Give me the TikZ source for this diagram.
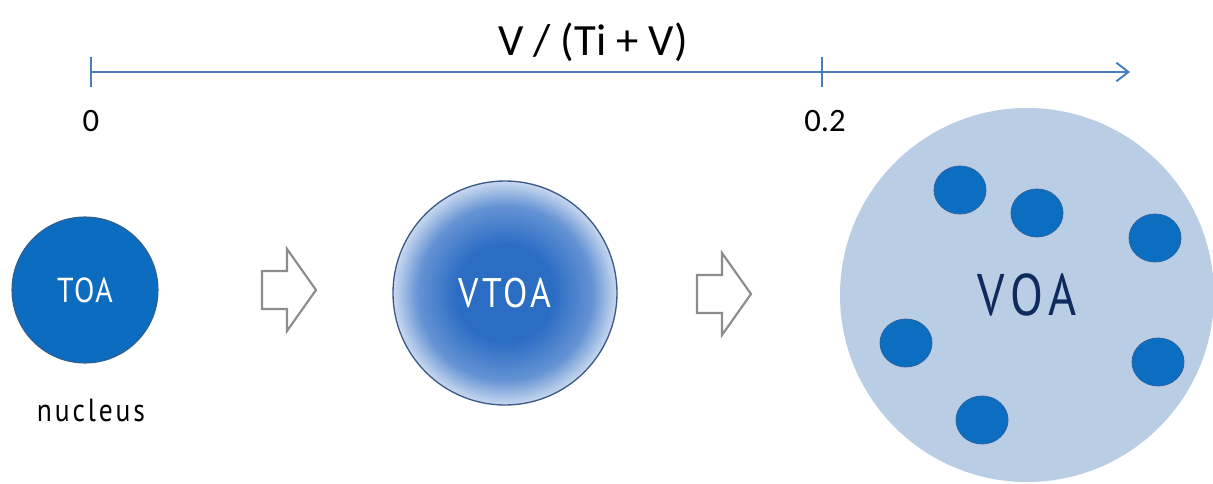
\documentclass[tikz,border=0pt]{standalone}
\usepackage{fontspec}
\setmainfont{Carlito}
\newfontfamily\din[LetterSpace=5,FakeStretch=0.86]{PT Sans}
\newfontfamily\dinmid[LetterSpace=9,FakeStretch=0.86]{PT Sans}
\newfontfamily\dinwide[LetterSpace=12,FakeStretch=0.82]{PT Sans}
\usetikzlibrary{arrows.meta,shapes.geometric}
\definecolor{axisblue}{HTML}{4A7EBB}
\definecolor{toafill}{HTML}{0B6CC0}
\definecolor{toaedge}{HTML}{2F5F8F}
\definecolor{vtoain}{HTML}{2C6DC4}
\definecolor{vtoamid}{HTML}{6593D4}
\definecolor{vtoaout}{HTML}{C9D9EF}
\definecolor{vtoaedge}{HTML}{3B5A88}
\definecolor{voafill}{HTML}{B9CDE5}
\definecolor{voatext}{HTML}{0F2A5C}
\definecolor{dotfill}{HTML}{0B6EC0}
\definecolor{dotedge}{HTML}{2A64A0}
\definecolor{arrowgray}{HTML}{8C8C8C}
\pgfdeclareradialshading{vtoashade}{\pgfpoint{0bp}{0bp}}{color(0bp)=(vtoain); color(11bp)=(vtoain); color(19.5bp)=(vtoamid); color(25bp)=(vtoaout); color(50bp)=(vtoaout)}
\begin{document}
\begin{tikzpicture}[x=0.75pt,y=-0.75pt,
  axis/.style={draw=axisblue,line width=1.5pt},
  ticklabel/.style={font=\fontsize{24.5}{28}\selectfont,inner sep=0pt},
  blockarrow/.style={draw=arrowgray,fill=white,line width=1.6pt,line join=miter},
  dot/.style={ellipse,draw=dotedge,fill=dotfill,line width=0.6pt,minimum width=39pt,minimum height=36pt,inner sep=0pt},
  hollowarrow/.pic={
    \path[blockarrow] (0,-19) -- (25,-19) -- (25,-41) -- (54,0) -- (25,41) -- (25,19) -- (0,19) -- cycle;
  }]
\useasboundingbox (0,0) rectangle (1213,484);
% axis
\coordinate (ax0) at (91,72);
\coordinate (axt) at (822,72);
\coordinate (axend) at (1130,72);
\coordinate (t0a) at (91,57);
\coordinate (t0b) at (91,87);
\coordinate (t1a) at (822,57);
\coordinate (t1b) at (822,87);
\draw[axis,-{Straight Barb[length=9pt,width=14pt,line width=1.5pt]}] (ax0) -- (axend);
\draw[axis] (t0a) -- (t0b);
\draw[axis] (t1a) -- (t1b);
\node[font=\fontsize{33.5}{40}\selectfont,inner sep=0pt] (title) at (593,42) {V / (Ti + V)};
\node[ticklabel] (l0) at (91,121) {0};
\node[ticklabel] (l02) at (825,121) {0.2};
% TOA
\node[circle,draw=toaedge,fill=toafill,line width=0.8pt,minimum size=109.5pt,inner sep=0pt,text=white,font=\din\fontsize{26}{30}\selectfont] (toa) at (85,290) {TOA};
\node[font=\dinmid\fontsize{24}{28}\selectfont,inner sep=0pt] (nucleus) at (91,410) {nucleus};
% arrow 1
\pic at (262,290) {hollowarrow};
% VTOA
\node[circle,draw=vtoaedge,shading=vtoashade,line width=1pt,minimum size=168pt,inner sep=0pt,text=white,font=\dinmid\fontsize{31}{36}\selectfont] (vtoa) at (505,293) {VTOA};
% arrow 2
\pic at (697,294) {hollowarrow};
% VOA
\node[circle,fill=voafill,minimum size=280.5pt,inner sep=0pt,text=voatext,font=\dinwide\fontsize{44}{50}\selectfont] (voa) at (1027,295) {VOA};
\node[dot] (d1) at (960,190) {};
\node[dot] (d2) at (1037,213) {};
\node[dot] (d3) at (1155,238) {};
\node[dot] (d4) at (906,343) {};
\node[dot] (d5) at (1158,362) {};
\node[dot] (d6) at (982,420) {};
\end{tikzpicture}
\end{document}
